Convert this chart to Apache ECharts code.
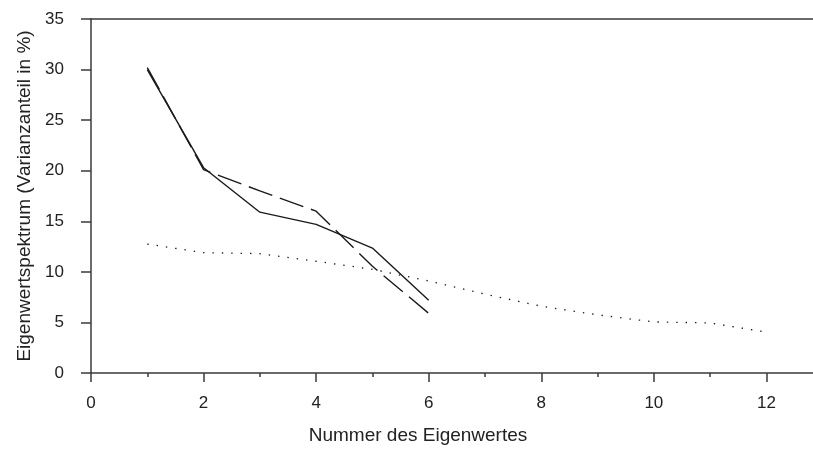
<!DOCTYPE html>
<html>
<head>
<meta charset="utf-8">
<script src="https://cdn.jsdelivr.net/npm/echarts@6/dist/echarts.min.js"></script>
<style>
  html, body { margin: 0; padding: 0; background: #fff; }
  #chart { width: 813px; height: 450px; }
</style>
</head>
<body>
<div id="chart"></div>
<script>
// Eigenvalue spectra: share of variance (%) per eigenvalue number
const eigenNumbers = [1, 2, 3, 4, 5, 6, 7, 8, 9, 10, 11, 12];
const spectrumSolid = [30.0, 20.3, 15.9, 14.7, 12.35, 7.2];
const spectrumDashed = [30.2, 20.1, 18.0, 16.0, 10.55, 5.9];
const spectrumDotted = [12.75, 11.9, 11.8, 11.05, 10.25, 9.1, 7.8, 6.6, 5.75, 5.05, 4.95, 4.05];

const xTicks = [0, 2, 4, 6, 8, 10, 12];
const yTicks = [0, 5, 10, 15, 20, 25, 30, 35];

const xName = 'Nummer des Eigenwertes';
const yName = 'Eigenwertspektrum (Varianzanteil in %)';

function pairs(values) {
  return values.map((v, i) => [eigenNumbers[i], v]);
}

const axisColor = '#3a3a3a';
const font = 'Liberation Sans, Arial, Helvetica, sans-serif';

// the x range runs to 14; the part past ~12.8 lies outside the canvas
const xMax = 14;

const chart = echarts.init(document.getElementById('chart'), null, { renderer: 'canvas' });

chart.setOption({
  animation: false,
  backgroundColor: '#fff',
  grid: {
    left: 91, width: 788, top: 19, bottom: 77,
    containLabel: false,
    outerBoundsMode: 'none'
  },
  xAxis: [
    {
      type: 'value',
      min: xTicks[0],
      max: xMax,
      interval: 2,
      name: xName,
      nameLocation: 'middle',
      nameGap: 53,
      nameTextStyle: { color: '#222', fontSize: 19, fontFamily: font, padding: [0, 134, 0, 0] },
      axisLine: { show: true, onZero: false, lineStyle: { color: axisColor, width: 1.5 } },
      axisTick: { show: true, inside: false, length: 9, lineStyle: { color: axisColor, width: 1.5 } },
      minorTick: { show: true, splitNumber: 2, length: 4, lineStyle: { color: axisColor, width: 1.5 } },
      axisLabel: {
        color: '#222', fontSize: 17, fontFamily: font, margin: 22,
        formatter: v => (xTicks.includes(v) ? String(v) : '')
      },
      splitLine: { show: false }
    },
    {
      type: 'value',
      position: 'top',
      min: xTicks[0],
      max: xMax,
      axisLine: { show: true, onZero: false, lineStyle: { color: axisColor, width: 1.5 } },
      axisTick: { show: false },
      axisLabel: { show: false },
      splitLine: { show: false }
    }
  ],
  yAxis: {
    type: 'value',
    min: yTicks[0],
    max: yTicks[yTicks.length - 1],
    interval: 5,
    name: yName,
    nameLocation: 'middle',
    nameGap: 56,
    nameTextStyle: { color: '#222', fontSize: 19, fontFamily: font },
    axisLine: { show: true, onZero: false, lineStyle: { color: axisColor, width: 1.5 } },
    axisTick: { show: true, inside: false, length: 10, lineStyle: { color: axisColor, width: 1.5 } },
    axisLabel: { color: '#222', fontSize: 17, fontFamily: font, margin: 27 },
    splitLine: { show: false }
  },
  series: [
    {
      type: 'line',
      data: pairs(spectrumSolid),
      showSymbol: false,
      lineStyle: { color: '#1a1a1a', width: 1.4, type: 'solid' }
    },
    {
      type: 'line',
      data: pairs(spectrumDashed),
      showSymbol: false,
      lineStyle: { color: '#1a1a1a', width: 1.4, type: [25, 8] }
    },
    {
      type: 'line',
      data: pairs(spectrumDotted),
      showSymbol: false,
      lineStyle: { color: '#1a1a1a', width: 1.3, type: [1.4, 8] }
    }
  ]
});
</script>
</body>
</html>
